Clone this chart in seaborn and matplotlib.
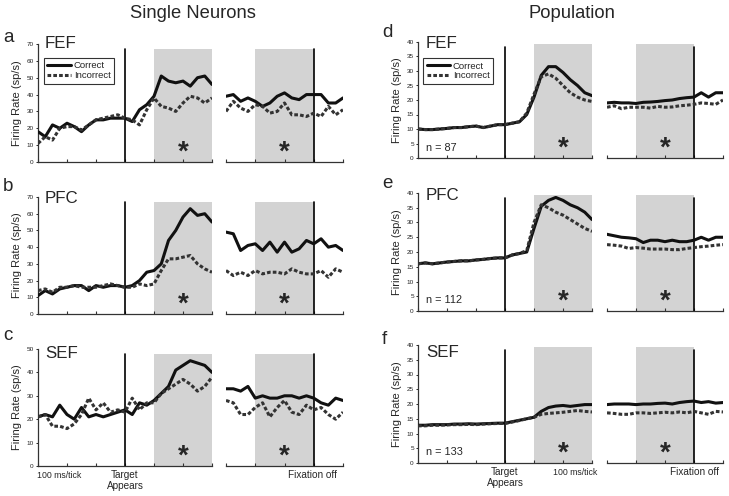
import numpy as np
import pandas as pd
import matplotlib
matplotlib.use("Agg")
import matplotlib.pyplot as plt
import seaborn as sns
from matplotlib.lines import Line2D

sns.set_theme(style="white")
plt.rcParams['font.family'] = ['Liberation Sans', 'DejaVu Sans']

# ---------------- data ----------------
t_target = np.arange(-300, 301, 25)      # ms relative to target onset
t_fix = np.arange(-300, 101, 25)         # ms relative to fixation offset
conditions = ["Correct", "Incorrect"]
areas = ["FEF", "PFC", "SEF"]

# Single neurons
a_cor_L = [18, 15, 22, 20, 23, 21, 18, 22, 25, 25, 26, 26, 26, 24, 31, 34, 39, 51, 48, 47, 48, 45, 50, 51, 46]
a_inc_L = [11, 15, 13, 20, 21, 21, 19, 22, 25, 26, 27, 28, 26, 25, 22, 31, 38, 33, 32, 30, 35, 39, 38, 35, 38]
a_cor_R = [39, 40, 36, 38, 36, 33, 35, 39, 41, 38, 37, 40, 40, 40, 35, 35, 38]
a_inc_R = [30, 36, 32, 30, 34, 33, 29, 30, 35, 28, 28, 27, 29, 27, 33, 28, 31]

b_cor_L = [11, 14, 12, 15, 16, 17, 17, 14, 17, 16, 17, 17, 16, 17, 20, 25, 26, 30, 44, 50, 58, 63, 59, 60, 55]
b_inc_L = [14, 15, 13, 16, 16, 17, 16, 16, 16, 17, 18, 17, 16, 16, 18, 17, 18, 26, 33, 33, 34, 35, 30, 27, 25]
b_cor_R = [49, 48, 38, 41, 42, 38, 43, 37, 43, 37, 39, 44, 42, 45, 40, 41, 38]
b_inc_R = [26, 23, 25, 23, 26, 24, 25, 25, 24, 27, 25, 24, 24, 26, 22, 27, 25]

c_cor_L = [21, 22, 21, 26, 22, 20, 25, 21, 22, 21, 22, 23, 24, 22, 27, 26, 28, 31, 34, 41, 43, 45, 44, 43, 40]
c_inc_L = [21, 22, 17, 17, 16, 18, 22, 29, 24, 27, 23, 24, 23, 29, 24, 27, 27, 31, 33, 35, 37, 35, 32, 34, 38]
c_cor_R = [33, 33, 32, 34, 29, 30, 29, 29, 30, 30, 29, 30, 29, 27, 26, 29, 28]
c_inc_R = [28, 27, 22, 22, 25, 27, 21, 25, 28, 23, 22, 26, 24, 25, 22, 20, 23]

# Population
d_cor_L = [10, 9.8, 9.8, 10, 10.2, 10.5, 10.5, 10.8, 11, 10.5, 11, 11.5, 11.5, 12, 12.5, 15, 21, 28.5, 31.5, 31.5, 29.5, 27, 25, 22.5, 21.5]
d_inc_L = [10, 9.8, 9.8, 10, 10.2, 10.5, 10.5, 10.8, 11, 10.5, 11, 11.5, 11.5, 12, 12.5, 15.5, 22, 28, 29, 27.5, 25, 22.5, 21, 20, 19.5]
d_cor_R = [19, 19.2, 19, 19, 18.8, 19.2, 19.3, 19.5, 19.8, 20, 20.5, 20.8, 21, 22.5, 21, 22.5, 22.5]
d_inc_R = [17.5, 18, 17, 17.5, 17.5, 17.5, 17.2, 17.8, 17.5, 17.6, 18, 18.2, 18.5, 19, 18.8, 18.5, 20]

e_cor_L = [16, 16.3, 16, 16.3, 16.6, 16.8, 17, 17, 17.3, 17.5, 17.8, 18, 18, 19, 19.5, 20, 28, 35.5, 37.5, 38.5, 37.5, 36, 35, 33.5, 31]
e_inc_L = [16, 16.3, 16, 16.3, 16.6, 16.8, 17, 17, 17.3, 17.5, 17.8, 18, 18, 19, 19.5, 20.5, 30, 36, 35, 33.5, 32.5, 31, 29.5, 28, 27]
e_cor_R = [26, 25.5, 25, 24.8, 24.5, 23.2, 24, 24, 23.5, 24, 23.5, 23.5, 24, 25, 24, 25, 25]
e_inc_R = [22.5, 22.3, 22, 21.2, 21.5, 21.3, 21, 21, 21, 20.8, 20.8, 21.2, 21.5, 21.8, 22, 22.3, 22.5]

f_cor_L = [12.8, 12.8, 13, 13, 13, 13.2, 13.2, 13.3, 13.2, 13.3, 13.4, 13.5, 13.5, 14, 14.5, 15, 15.5, 17.5, 18.8, 19.3, 19.5, 19.2, 19.5, 19.8, 19.8]
f_inc_L = [12.6, 12.6, 12.8, 12.8, 12.9, 13, 13, 13.1, 13, 13.2, 13.3, 13.4, 13.4, 13.9, 14.4, 15, 15.5, 16.5, 16.8, 17, 17.2, 17.5, 17.8, 17.5, 17.3]
f_cor_R = [19.8, 20, 20, 20, 19.8, 20, 20, 20.2, 20.3, 20, 20.5, 20.8, 21, 20.5, 20.8, 20.3, 20.5]
f_inc_R = [17, 16.8, 16.5, 16.5, 17, 17, 16.8, 17, 17.2, 17, 17.3, 17, 17.5, 17, 16.5, 17.5, 17.3]

single_yticks = [[0, 10, 20, 30, 40, 50, 60, 70], [0, 10, 20, 30, 40, 50, 60, 70], [0, 10, 20, 30, 40, 50]]
pop_yticks = [0, 5, 10, 15, 20, 25, 30, 35, 40]
n_cells = ["n = 87", "n = 112", "n = 133"]
panel_letters_left = ["a", "b", "c"]
panel_letters_right = ["d", "e", "f"]

single = [(a_cor_L, a_inc_L, a_cor_R, a_inc_R),
          (b_cor_L, b_inc_L, b_cor_R, b_inc_R),
          (c_cor_L, c_inc_L, c_cor_R, c_inc_R)]
population = [(d_cor_L, d_inc_L, d_cor_R, d_inc_R),
              (e_cor_L, e_inc_L, e_cor_R, e_inc_R),
              (f_cor_L, f_inc_L, f_cor_R, f_inc_R)]

# ---------------- style ----------------
W, H = 729, 496
fig = plt.figure(figsize=(W / 100, H / 100), dpi=100)

palette = {"Correct": "#111111", "Incorrect": "#333333"}
dashes = {"Correct": "", "Incorrect": (1.2, 0.7)}
SHADE = "#d3d3d3"
LW = 2.2


def px_axes(x0, x1, ytop, ybot):
    return fig.add_axes([x0 / W, 1 - ybot / H, (x1 - x0) / W, (ybot - ytop) / H])


def to_df(t, cor, inc):
    return pd.DataFrame({
        "time": np.concatenate([t, t]),
        "rate": np.concatenate([cor, inc]),
        "cond": ["Correct"] * len(t) + ["Incorrect"] * len(t),
    })


def style_time_axis(ax, lo, hi):
    ax.set_xlim(lo, hi)
    ax.set_xticks(np.arange(lo, hi + 1, 100))
    ax.set_xticklabels([])
    ax.tick_params(axis="x", direction="in", length=2.5, width=0.8, color="#333333", bottom=True, pad=1)
    for s in ["top", "right"]:
        ax.spines[s].set_visible(False)
    ax.spines["bottom"].set_linewidth(0.9)
    ax.spines["bottom"].set_color("#333333")
    ax.set_xlabel("")
    ax.set_ylabel("")
    ax.patch.set_alpha(0)


def draw_pair(ax_l, ax_r, data, ymax, yticks, shade_top, line_top, ylabel=True):
    cor_L, inc_L, cor_R, inc_R = data
    # left: aligned to target onset
    ax_l.axvspan(100, 300, ymin=0, ymax=shade_top, color=SHADE, lw=0, zorder=0)
    ax_l.axvline(0, ymin=0, ymax=line_top, color="black", lw=1.2, zorder=1)
    sns.lineplot(data=to_df(t_target, cor_L, inc_L), x="time", y="rate", hue="cond",
                 style="cond", palette=palette, dashes=dashes, linewidth=LW,
                 legend=False, ax=ax_l, zorder=3)
    style_time_axis(ax_l, -300, 300)
    ax_l.set_ylim(0, ymax)
    ax_l.set_yticks(yticks)
    ax_l.set_yticklabels([str(v) for v in yticks], fontsize=4.6, color="#222222")
    ax_l.tick_params(axis="y", direction="out", length=1.8, width=0.7, left=True, pad=1.2)
    ax_l.spines["left"].set_linewidth(0.9)
    ax_l.spines["left"].set_color("#333333")
    if ylabel:
        ax_l.set_ylabel("Firing Rate (sp/s)", fontsize=8, labelpad=3)
    ax_l.text(200, 0.02 * ymax, "*", ha="center", va="baseline", fontsize=20, fontweight="bold")

    # right: aligned to fixation offset
    ax_r.axvspan(-200, 0, ymin=0, ymax=shade_top, color=SHADE, lw=0, zorder=0)
    ax_r.axvline(0, ymin=0, ymax=line_top, color="black", lw=1.2, zorder=1)
    sns.lineplot(data=to_df(t_fix, cor_R, inc_R), x="time", y="rate", hue="cond",
                 style="cond", palette=palette, dashes=dashes, linewidth=LW,
                 legend=False, ax=ax_r, zorder=3)
    style_time_axis(ax_r, -300, 100)
    ax_r.set_ylim(0, ymax)
    ax_r.set_yticks([])
    ax_r.spines["left"].set_visible(False)
    ax_r.text(-100, 0.02 * ymax, "*", ha="center", va="baseline", fontsize=20, fontweight="bold")


def add_legend(ax, x, y):
    handles = [Line2D([], [], color=palette["Correct"], lw=LW),
               Line2D([], [], color=palette["Incorrect"], lw=LW, dashes=dashes["Incorrect"])]
    leg = ax.legend(handles, conditions, loc="upper left", bbox_to_anchor=(x, y),
                    fontsize=6.8, frameon=True, fancybox=False, handlelength=2.5,
                    handletextpad=0.3, borderpad=0.35, labelspacing=0.1,
                    borderaxespad=0)
    leg.get_frame().set_edgecolor("black")
    leg.get_frame().set_linewidth(0.8)


def ftext(x, y, s, **kw):
    fig.text(x / W, 1 - y / H, s, **kw)


left_rows = [(44, 162), (197, 314), (349, 466)]
right_rows = [(42, 158), (193, 311), (345, 463)]
letter_base_left = [42, 191, 340]
letter_base_right = [37, 188, 344]
area_base_left = [48, 203, 358]
area_base_right = [48, 200, 357]

for i in range(3):
    # single neurons
    yt, yb = left_rows[i]
    axl = px_axes(38, 212, yt, yb)
    axr = px_axes(226, 343, yt, yb)
    ymax = single_yticks[i][-1]
    draw_pair(axl, axr, single[i], ymax, single_yticks[i], 0.96, 0.96)
    ftext(3, letter_base_left[i], panel_letters_left[i], fontsize=13.5, va="baseline")
    ftext(45, area_base_left[i], areas[i], fontsize=12.2, va="baseline")
    if i == 0:
        add_legend(axl, 0.035, 0.88)

    # population
    yt, yb = right_rows[i]
    axl = px_axes(418, 592, yt, yb)
    axr = px_axes(607, 723, yt, yb)
    draw_pair(axl, axr, population[i], 40, pop_yticks, 0.98, 0.96)
    ftext(382, letter_base_right[i], panel_letters_right[i], fontsize=13.5, va="baseline")
    ftext(426, area_base_right[i], areas[i], fontsize=12.2, va="baseline")
    axl.text(0.045, 0.09, n_cells[i], transform=axl.transAxes, fontsize=7.8, va="center", ha="left")
    if i == 0:
        add_legend(axl, 0.03, 0.86)

# column titles
ftext(193, 18, "Single Neurons", fontsize=13.2, ha="center", va="baseline")
ftext(572, 18, "Population", fontsize=13.2, ha="center", va="baseline")

# bottom annotations (single neurons)
ftext(59, 478, "100 ms/tick", fontsize=6.3, ha="center", va="baseline")
ftext(125, 478, "Target", fontsize=7.2, ha="center", va="baseline")
ftext(125, 489, "Appears", fontsize=7.2, ha="center", va="baseline")
ftext(313, 478, "Fixation off", fontsize=7.2, ha="center", va="baseline")
# bottom annotations (population)
ftext(505, 475, "Target", fontsize=7.2, ha="center", va="baseline")
ftext(505, 486, "Appears", fontsize=7.2, ha="center", va="baseline")
ftext(575, 475, "100 ms/tick", fontsize=6.3, ha="center", va="baseline")
ftext(694, 475, "Fixation off", fontsize=7.2, ha="center", va="baseline")

fig.savefig("out.png", dpi=100, facecolor="white")
